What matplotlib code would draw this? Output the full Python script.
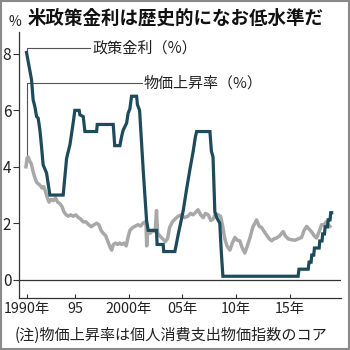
import matplotlib
matplotlib.use("Agg")
import matplotlib.pyplot as plt
from matplotlib.patches import Rectangle

plt.rcParams['font.family'] = ['Noto Sans CJK JP', 'DejaVu Sans']

# 政策金利（%）: 折れ線の頂点（年, 値）
policy_year = [
    1990.45, 1990.62, 1990.78, 1990.92, 1991.07, 1991.23, 1991.39, 1991.54, 1991.70, 1991.85, 1992.00, 1992.32, 1992.63,
    1993.87, 1994.19, 1994.50, 1994.80, 1994.96,
    1995.36, 1995.43, 1995.74, 1995.90,
    1996.99, 1997.05,
    1998.54, 1998.68,
    1999.16, 1999.32, 1999.47, 1999.79, 1999.93, 2000.09, 2000.25,
    2000.72, 2000.80, 2001.00, 2001.35, 2001.65, 2001.80,
    2002.58, 2002.63, 2003.20, 2003.25,
    2004.29, 2004.60, 2005.07, 2005.38, 2005.69, 2006.00, 2006.10, 2006.20, 2006.32,
    2007.56, 2007.70, 2007.85, 2008.02, 2008.20, 2008.48, 2008.62, 2008.77,
    2015.79, 2015.87, 2016.73, 2016.81, 2017.00, 2017.06, 2017.25, 2017.31, 2017.75, 2017.81,
    2018.02, 2018.08, 2018.25, 2018.31, 2018.53, 2018.59, 2018.77, 2018.83, 2018.92,
]
policy_rate = [
    8.05, 7.70, 7.37, 7.08, 6.37, 6.13, 5.78, 5.72, 5.30, 4.72, 4.07, 3.78, 3.00,
    3.00, 4.30, 4.78, 5.55, 6.00,
    6.00, 5.84, 5.78, 5.25,
    5.25, 5.50,
    5.50, 4.75,
    4.75, 5.07, 5.30, 5.55, 5.90, 6.05, 6.50,
    6.50, 6.20, 6.00, 3.80, 2.10, 1.75,
    1.75, 1.25, 1.25, 1.00,
    1.00, 1.60, 2.45, 3.20, 3.90, 4.55, 4.80, 5.05, 5.25,
    5.25, 4.55, 4.35, 2.40, 2.20, 2.00, 1.00, 0.125,
    0.125, 0.375, 0.375, 0.625, 0.625, 0.875, 0.875, 1.125, 1.125, 1.375,
    1.375, 1.625, 1.625, 1.875, 1.875, 2.125, 2.125, 2.375, 2.375,
]

# 物価上昇率（%）: 個人消費支出物価指数のコア
infl_year = [
    1990.40, 1990.50, 1990.60, 1990.75, 1990.90, 1991.05, 1991.20, 1991.40, 1991.55, 1991.70,
    1991.90, 1992.05, 1992.20, 1992.40, 1992.55, 1992.75, 1992.95, 1993.15, 1993.35, 1993.55,
    1993.75, 1993.95, 1994.15, 1994.35, 1994.55, 1994.80, 1995.05, 1995.30, 1995.50, 1995.75,
    1996.00, 1996.25, 1996.50, 1996.75, 1997.00, 1997.20, 1997.40, 1997.60, 1997.85, 1998.05,
    1998.25, 1998.40, 1998.55, 1998.75, 1998.95, 1999.15, 1999.35, 1999.55, 1999.75, 1999.95,
    2000.10, 2000.35, 2000.60, 2000.85, 2001.10, 2001.30, 2001.50, 2001.60, 2001.66, 2001.75,
    2002.00, 2002.25, 2002.45, 2002.58, 2002.68, 2002.90, 2003.15, 2003.40, 2003.60, 2003.80,
    2004.05, 2004.30, 2004.60, 2004.90, 2005.20, 2005.50, 2005.75, 2006.00, 2006.25, 2006.45,
    2006.70, 2006.93, 2007.15, 2007.40, 2007.65, 2007.86, 2008.10, 2008.33, 2008.55, 2008.75,
    2008.95, 2009.15, 2009.42, 2009.65, 2009.89, 2010.10, 2010.35, 2010.55, 2010.82, 2011.05,
    2011.29, 2011.55, 2011.91, 2012.15, 2012.38, 2012.60, 2012.85, 2013.10, 2013.31, 2013.55,
    2013.78, 2014.05, 2014.39, 2014.60, 2014.86, 2015.15, 2015.49, 2015.80, 2016.11, 2016.35,
    2016.58, 2016.80, 2017.04, 2017.30, 2017.51, 2017.75, 2017.98, 2018.20, 2018.44, 2018.60,
    2018.75,
]
infl_rate = [
    4.00, 4.30, 4.35, 4.20, 4.10, 3.85, 3.65, 3.45, 3.40, 3.35,
    3.25, 3.30, 3.15, 2.90, 2.75, 2.85, 2.80, 2.90, 2.75, 2.70,
    2.60, 2.40, 2.30, 2.25, 2.30, 2.25, 2.30, 2.20, 2.15, 2.05,
    2.05, 1.95, 1.88, 1.95, 2.00, 1.95, 1.75, 1.65, 1.55, 1.35,
    1.15, 1.05, 1.25, 1.30, 1.25, 1.30, 1.25, 1.30, 1.20, 1.55,
    1.75, 1.85, 1.90, 1.95, 1.90, 2.00, 2.05, 1.95, 1.20, 1.70,
    1.65, 1.75, 1.70, 2.45, 1.65, 1.55, 1.45, 1.35, 1.45, 1.85,
    2.05, 2.15, 2.25, 2.30, 2.20, 2.25, 2.35, 2.30, 2.40, 2.48,
    2.30, 2.20, 2.35, 2.30, 2.10, 2.15, 2.35, 2.30, 2.25, 1.90,
    1.45, 1.20, 1.05, 1.30, 1.50, 1.40, 1.38, 1.15, 0.95, 1.20,
    1.48, 1.85, 2.12, 1.90, 1.85, 1.72, 1.58, 1.45, 1.38, 1.45,
    1.48, 1.55, 1.71, 1.55, 1.45, 1.42, 1.40, 1.45, 1.50, 1.75,
    1.89, 1.80, 1.70, 1.55, 1.48, 1.70, 1.95, 1.95, 2.06, 1.95,
    1.89,
]

x_ticks = [1990.5, 1995, 2000, 2005, 2010, 2015]
x_labels = ['1990年', '95', '2000年', '05年', '10年', '15年']
y_ticks = [0, 2, 4, 6, 8]

TEAL = '#1d4b5b'
GRAY = '#a8a8a8'
INK = '#222222'
LEAD = '#555555'

fig = plt.figure(figsize=(3.5, 3.5), dpi=100)
ax = fig.add_axes([0.054, 0.149, 0.92, 0.760])

ax.plot(infl_year, infl_rate, color=GRAY, lw=2.5, solid_joinstyle='round', zorder=2)
ax.plot(policy_year, policy_rate, color=TEAL, lw=2.3, solid_joinstyle='miter', zorder=3)
ax.axhline(0, color='#333333', lw=0.9, zorder=1)

ax.set_xlim(1989.74, 2019.78)
ax.set_ylim(-0.64, 8.78)

for side in ('top', 'right'):
    ax.spines[side].set_visible(False)
for side in ('left', 'bottom'):
    ax.spines[side].set_color('#333333')
    ax.spines[side].set_linewidth(0.9)

ax.set_yticks(y_ticks)
ax.set_yticklabels([str(v) for v in y_ticks])
ax.tick_params(axis='y', direction='out', length=4, width=0.8, color='#333333',
               pad=1.5, labelsize=11, labelcolor=INK)
ax.set_xticks(x_ticks)
ax.set_xticklabels(x_labels)
ax.tick_params(axis='x', direction='in', length=3, width=0.8, color='#333333',
               pad=3, labelsize=10.3, labelcolor=INK)

# 引き出し線とラベル
ax.plot([1990.5, 1990.5, 1996.4], [8.05, 8.21, 8.21], color=LEAD, lw=0.8, clip_on=False, zorder=1)
ax.text(1996.6, 8.21, '政策金利（%）', fontsize=10.9, color=INK, va='center', ha='left')
ax.plot([1990.5, 1990.5, 2001.2], [4.42, 6.97, 6.97], color=LEAD, lw=0.8, clip_on=False, zorder=1)
ax.text(2001.4, 6.97, '物価上昇率（%）', fontsize=10.8, color=INK, va='center', ha='left')

fig.text(0.023, 0.937, '%', fontsize=10, color=INK, va='center', ha='left')
fig.text(0.078, 0.947, '米政策金利は歴史的になお低水準だ', fontsize=13.3,
         fontweight='bold', color='#111111', va='center', ha='left')
fig.text(0.042, 0.043, '(注)物価上昇率は個人消費支出物価指数のコア', fontsize=10.9,
         color=INK, va='center', ha='left')

fig.patches.append(Rectangle((0.003, 0.003), 0.994, 0.994, transform=fig.transFigure,
                             fill=False, edgecolor='#8a8a8a', lw=1.5))

fig.savefig('out.png', dpi=100)
